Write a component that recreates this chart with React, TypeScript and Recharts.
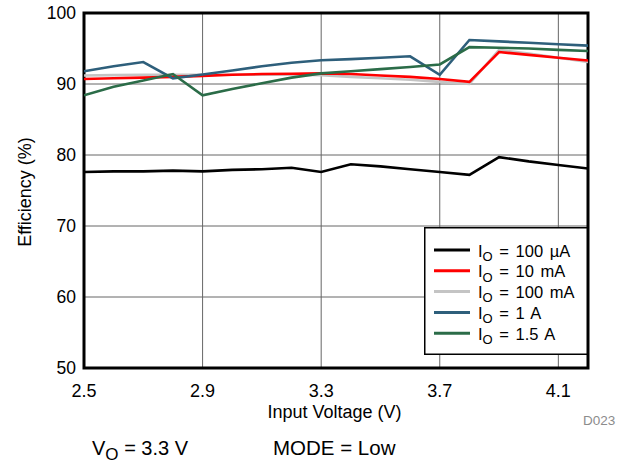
import { LineChart, Line, XAxis, YAxis, CartesianGrid, ReferenceArea } from 'recharts';

const VIN = [2.5, 2.6, 2.7, 2.8, 2.9, 3.0, 3.1, 3.2, 3.3, 3.4, 3.5, 3.6, 3.7, 3.8, 3.9, 4.0, 4.1, 4.2];
const EFF_100UA = [77.6, 77.7, 77.7, 77.8, 77.7, 77.9, 78.0, 78.2, 77.6, 78.7, 78.4, 78.0, 77.6, 77.2, 79.7, 79.1, 78.6, 78.1];
const EFF_10MA = [90.7, 90.8, 90.9, 91.0, 91.15, 91.3, 91.4, 91.45, 91.5, 91.4, 91.2, 91.0, 90.7, 90.3, 94.5, 94.1, 93.7, 93.3];
const EFF_100MA = [91.2, 91.25, 91.3, 91.3, 91.3, 91.3, 91.3, 91.3, 91.25, 91.0, 90.8, 90.6, 90.3, 90.0, 94.8, 94.3, 93.7, 93.1];
const EFF_1A = [91.8, 92.5, 93.1, 90.8, 91.35, 91.9, 92.5, 93.0, 93.35, 93.5, 93.7, 93.9, 91.3, 96.2, 96.0, 95.8, 95.6, 95.4];
const EFF_1P5A = [88.4, 89.6, 90.5, 91.4, 88.4, 89.3, 90.1, 90.9, 91.5, 91.8, 92.1, 92.4, 92.75, 95.2, 95.1, 95.0, 94.8, 94.65];

const X_TICKS = [2.5, 2.9, 3.3, 3.7, 4.1];
const Y_TICKS = [50, 60, 70, 80, 90, 100];

const SERIES = [
  { key: 'ua100', label: '100 µA', color: '#000000', values: EFF_100UA },
  { key: 'ma100', label: '100 mA', color: '#c4c4c4', values: EFF_100MA },
  { key: 'ma10', label: '10 mA', color: '#ff0000', values: EFF_10MA },
  { key: 'a1', label: '1 A', color: '#2e5f7b', values: EFF_1A },
  { key: 'a15', label: '1.5 A', color: '#2b6c48', values: EFF_1P5A },
];
const LEGEND_ORDER = ['ua100', 'ma10', 'ma100', 'a1', 'a15'];

const data = VIN.map((v, i) => {
  const row: any = { vin: v };
  SERIES.forEach((s) => (row[s.key] = s.values[i]));
  return row;
});

const FONT = '"Liberation Sans", Arial, Helvetica, sans-serif';

function LegendBox() {
  return (
    <svg width={164} height={128} style={{ position: 'absolute', left: 424, top: 227, fontFamily: FONT }}>
      <rect x={0.75} y={0.75} width={162.5} height={126.5} fill="#fff" stroke="#000" strokeWidth={1.5} />
      {LEGEND_ORDER.map((k, i) => {
        const s = SERIES.find((x) => x.key === k)!;
        const cy = 23 + i * 20.8;
        return (
          <g key={k}>
            <line x1={10} x2={46} y1={cy} y2={cy} stroke={s.color} strokeWidth={3} />
            <text x={54} y={cy + 6.5} fontSize={16.5} fill="#000" wordSpacing={2}>
              I<tspan dy={4.3} fontSize={13}>O</tspan>
              <tspan dy={-4.3}>{' = ' + s.label}</tspan>
            </text>
          </g>
        );
      })}
    </svg>
  );
}

export default function App() {
  return (
    <div style={{ position: 'absolute', left: 0, top: 0, width: 624, height: 463, background: '#fff', fontFamily: FONT }}>
      <LineChart width={624} height={463} data={data} margin={{ top: 13, right: 36, left: 0, bottom: 0 }}>
        <CartesianGrid stroke="#666" strokeWidth={1} />
        <XAxis
          dataKey="vin"
          type="number"
          domain={[2.5, 4.2]}
          ticks={X_TICKS}
          height={95}
          tickLine={false}
          axisLine={false}
          tickSize={10}
          tickMargin={6}
          tick={{ fill: '#000', fontSize: 18, fontFamily: FONT }}
          tickFormatter={(v: number) => v.toFixed(1)}
          allowDataOverflow
        />
        <YAxis
          type="number"
          domain={[50, 100]}
          ticks={Y_TICKS}
          width={84}
          tickLine={false}
          axisLine={false}
          tickSize={6}
          tickMargin={2}
          tick={{ fill: '#000', fontSize: 17.5, fontFamily: FONT }}
          allowDataOverflow
        />
        {SERIES.map((s) => (
          <Line
            key={s.key}
            dataKey={s.key}
            type="linear"
            stroke={s.color}
            strokeWidth={2.6}
            dot={false}
            activeDot={false}
            isAnimationActive={false}
          />
        ))}
        <ReferenceArea x1={2.5} x2={4.2} y1={50} y2={100} fill="none" stroke="#000" strokeWidth={3} ifOverflow="visible" />
      </LineChart>
      <LegendBox />
      <svg width={624} height={463} style={{ position: 'absolute', left: 0, top: 0, pointerEvents: 'none', fontFamily: FONT }}>
        <text transform="translate(24.3,192) rotate(-90)" x={0} y={6.4} textAnchor="middle" fontSize={18} fill="#000">
          Efficiency (%)
        </text>
        <text x={334.5} y={418} textAnchor="middle" fontSize={18} fill="#000">
          Input Voltage (V)
        </text>
        <text x={583} y={425} fontSize={13.5} fill="#8c8c8c">
          D023
        </text>
        <text x={92} y={455} fontSize={20} fill="#000">
          V<tspan dy={5} fontSize={17}>O</tspan>
          <tspan dy={-5}> = 3.3 V</tspan>
        </text>
        <text x={273} y={455} fontSize={20.5} fill="#000">
          MODE = Low
        </text>
      </svg>
    </div>
  );
}
